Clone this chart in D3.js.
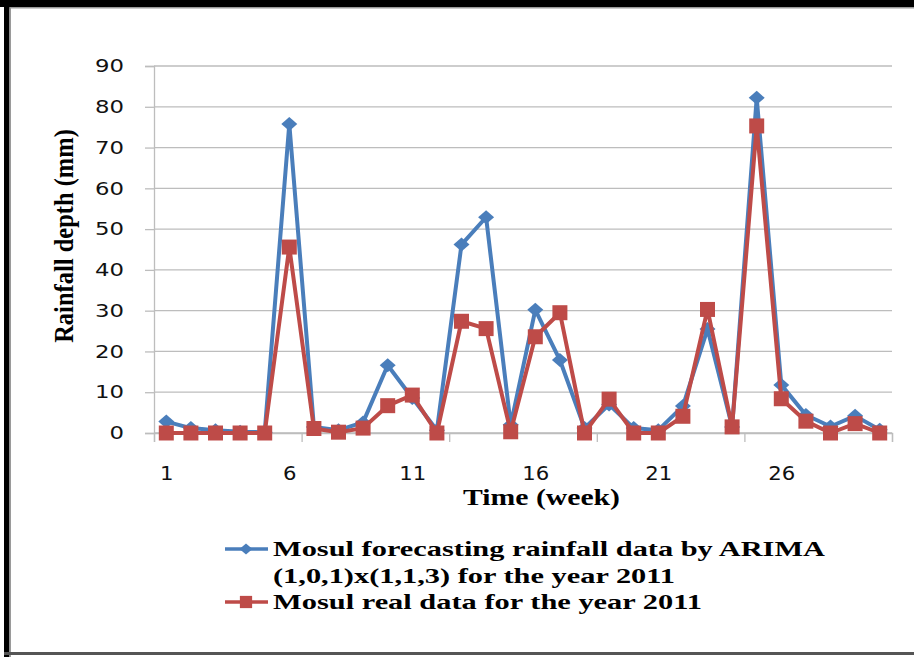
<!DOCTYPE html>
<html>
<head>
<meta charset="utf-8">
<script src="https://cdn.jsdelivr.net/npm/d3@7/dist/d3.min.js"></script>
<style>
  html, body { margin: 0; padding: 0; background: #fff; }
  svg { display: block; }
</style>
</head>
<body>
<svg id="chart" width="914" height="657"></svg>
<script>
// ---- data ----
const weeks = d3.range(1, 31);
const forecast = [2.8, 1.2, 0.7, 0.3, 0.2, 75.8, 1.5, 0.7, 2.6, 16.6,
                  8.6, 0.7, 46.2, 52.9, 2.0, 30.2, 17.9, 1.2, 7.0, 1.2,
                  0.7, 6.6, 25.5, 1.5, 82.2, 11.8, 4.4, 1.6, 4.2, 0.8];
const real = [0, 0, 0, 0, 0, 45.6, 1.1, 0.2, 1.2, 6.7,
              9.3, 0, 27.4, 25.6, 0.3, 23.6, 29.5, 0, 8.3, 0,
              0, 4.1, 30.3, 1.5, 75.3, 8.4, 2.9, 0, 2.3, 0];
const yTicks = [0, 10, 20, 30, 40, 50, 60, 70, 80, 90];
const xLabels = [1, 6, 11, 16, 21, 26];
const xTickBoundaries = [0, 6, 12, 18, 24, 30];
const legendLines = ["Mosul forecasting rainfall data by ARIMA",
                     "(1,0,1)x(1,1,3) for the year 2011",
                     "Mosul real data for the year 2011"];
const yTitle = "Rainfall depth (mm)";
const xTitle = "Time (week)";

// ---- layout ----
const svg = d3.select("#chart");
const L = 154, R = 892, T = 66, B = 433;
const blue = "#4A7EBB", red = "#BE4B48", grid = "#BDBDBD";

// frame
svg.append("rect").attr("x", 0).attr("y", 0).attr("width", 914).attr("height", 7).attr("fill", "#000");
svg.append("rect").attr("x", 9).attr("y", 7).attr("width", 905).attr("height", 1.5).attr("fill", "#9a9a9a");
svg.append("rect").attr("x", 4).attr("y", 0).attr("width", 5.5).attr("height", 657).attr("fill", "#000");
svg.append("rect").attr("x", 9.5).attr("y", 7).attr("width", 1.5).attr("height", 650).attr("fill", "#9a9a9a");
svg.append("rect").attr("x", 4).attr("y", 652).attr("width", 910).attr("height", 3).attr("fill", "#555");

const x = d3.scaleBand().domain(weeks).range([L, R]);
const xc = d => x(d) + x.bandwidth() / 2;
const xB = d3.scaleLinear().domain([0, 30]).range([L, R]);
const y = d3.scaleLinear().domain([0, 90]).range([B, T]);

// gridlines
svg.append("g").selectAll("line").data(yTicks).join("line")
  .attr("x1", L).attr("x2", R)
  .attr("y1", d => y(d)).attr("y2", d => y(d))
  .attr("stroke", grid).attr("stroke-width", 1.3);

// y axis
const yAxis = svg.append("g").attr("transform", `translate(${L},0)`)
  .call(d3.axisLeft(y).tickValues(yTicks).tickSize(9).tickPadding(21));
yAxis.select(".domain").attr("stroke", grid).attr("stroke-width", 1.3);
yAxis.selectAll(".tick line").attr("stroke", grid).attr("stroke-width", 1.3);
yAxis.selectAll(".tick text")
  .attr("font-family", "DejaVu Sans").attr("font-size", 18).attr("fill", "#111")
  .attr("textLength", d => String(d).length * 14.5)
  .attr("lengthAdjust", "spacingAndGlyphs");

// x axis tick marks (between categories)
const xTickAxis = svg.append("g").attr("transform", `translate(0,${B})`)
  .call(d3.axisBottom(xB).tickValues(xTickBoundaries).tickSize(9).tickFormat(""));
xTickAxis.select(".domain").attr("stroke", grid).attr("stroke-width", 1.3);
xTickAxis.selectAll(".tick line").attr("stroke", grid).attr("stroke-width", 1.3);

// x labels
const xLabelAxis = svg.append("g").attr("transform", `translate(0,${B})`)
  .call(d3.axisBottom(d3.scalePoint().domain(weeks).range([xc(1), xc(30)]))
    .tickValues(xLabels).tickSize(0).tickPadding(33.5));
xLabelAxis.select(".domain").remove();
xLabelAxis.selectAll(".tick text")
  .attr("font-family", "DejaVu Sans").attr("font-size", 19).attr("fill", "#111")
  .attr("textLength", d => String(d).length * 13.5)
  .attr("lengthAdjust", "spacingAndGlyphs");

// titles
svg.append("text")
  .attr("transform", "translate(73,236) scale(1.1,1) rotate(-90)")
  .attr("text-anchor", "middle")
  .attr("font-family", "Liberation Serif").attr("font-weight", "bold").attr("font-size", 24.5)
  .attr("fill", "#000")
  .text(yTitle);

svg.append("text")
  .attr("x", 463).attr("y", 505)
  .attr("font-family", "Liberation Serif").attr("font-weight", "bold").attr("font-size", 24)
  .attr("textLength", 157).attr("lengthAdjust", "spacingAndGlyphs")
  .attr("fill", "#000")
  .text(xTitle);

// series
const line = d3.line().x((d, i) => xc(weeks[i])).y(d => y(d));
const diamond = "M0,-7L8,0L0,7L-8,0Z";

svg.append("path").datum(forecast).attr("d", line)
  .attr("fill", "none").attr("stroke", blue).attr("stroke-width", 4).attr("stroke-linejoin", "round");
svg.append("g").selectAll("path").data(forecast).join("path")
  .attr("transform", (d, i) => `translate(${xc(weeks[i])},${y(d)})`)
  .attr("d", diamond).attr("fill", blue);

svg.append("path").datum(real).attr("d", line)
  .attr("fill", "none").attr("stroke", red).attr("stroke-width", 4).attr("stroke-linejoin", "round");
svg.append("g").selectAll("path").data(real).join("path")
  .attr("transform", (d, i) => `translate(${xc(weeks[i])},${y(d)})`)
  .attr("d", d3.symbol(d3.symbolSquare, 225)).attr("fill", red);

// legend
const lg = svg.append("g");
lg.append("line").attr("x1", 225).attr("x2", 268).attr("y1", 549).attr("y2", 549)
  .attr("stroke", blue).attr("stroke-width", 3.5);
lg.append("path").attr("transform", "translate(246,549)").attr("d", "M0,-5.5L6.5,0L0,5.5L-6.5,0Z").attr("fill", blue);
lg.append("line").attr("x1", 225).attr("x2", 268).attr("y1", 602).attr("y2", 602)
  .attr("stroke", red).attr("stroke-width", 3.5);
lg.append("path").attr("transform", "translate(246,602)").attr("d", d3.symbol(d3.symbolSquare, 150)).attr("fill", red);

const legendBase = [556, 583, 609];
const legendWidth = [552, 402, 429];
lg.selectAll("text").data(legendLines).join("text")
  .attr("x", 273).attr("y", (d, i) => legendBase[i])
  .attr("font-family", "Liberation Serif").attr("font-weight", "bold").attr("font-size", 21.5)
  .attr("textLength", (d, i) => legendWidth[i]).attr("lengthAdjust", "spacingAndGlyphs")
  .attr("fill", "#000")
  .text(d => d);
</script>
</body>
</html>
